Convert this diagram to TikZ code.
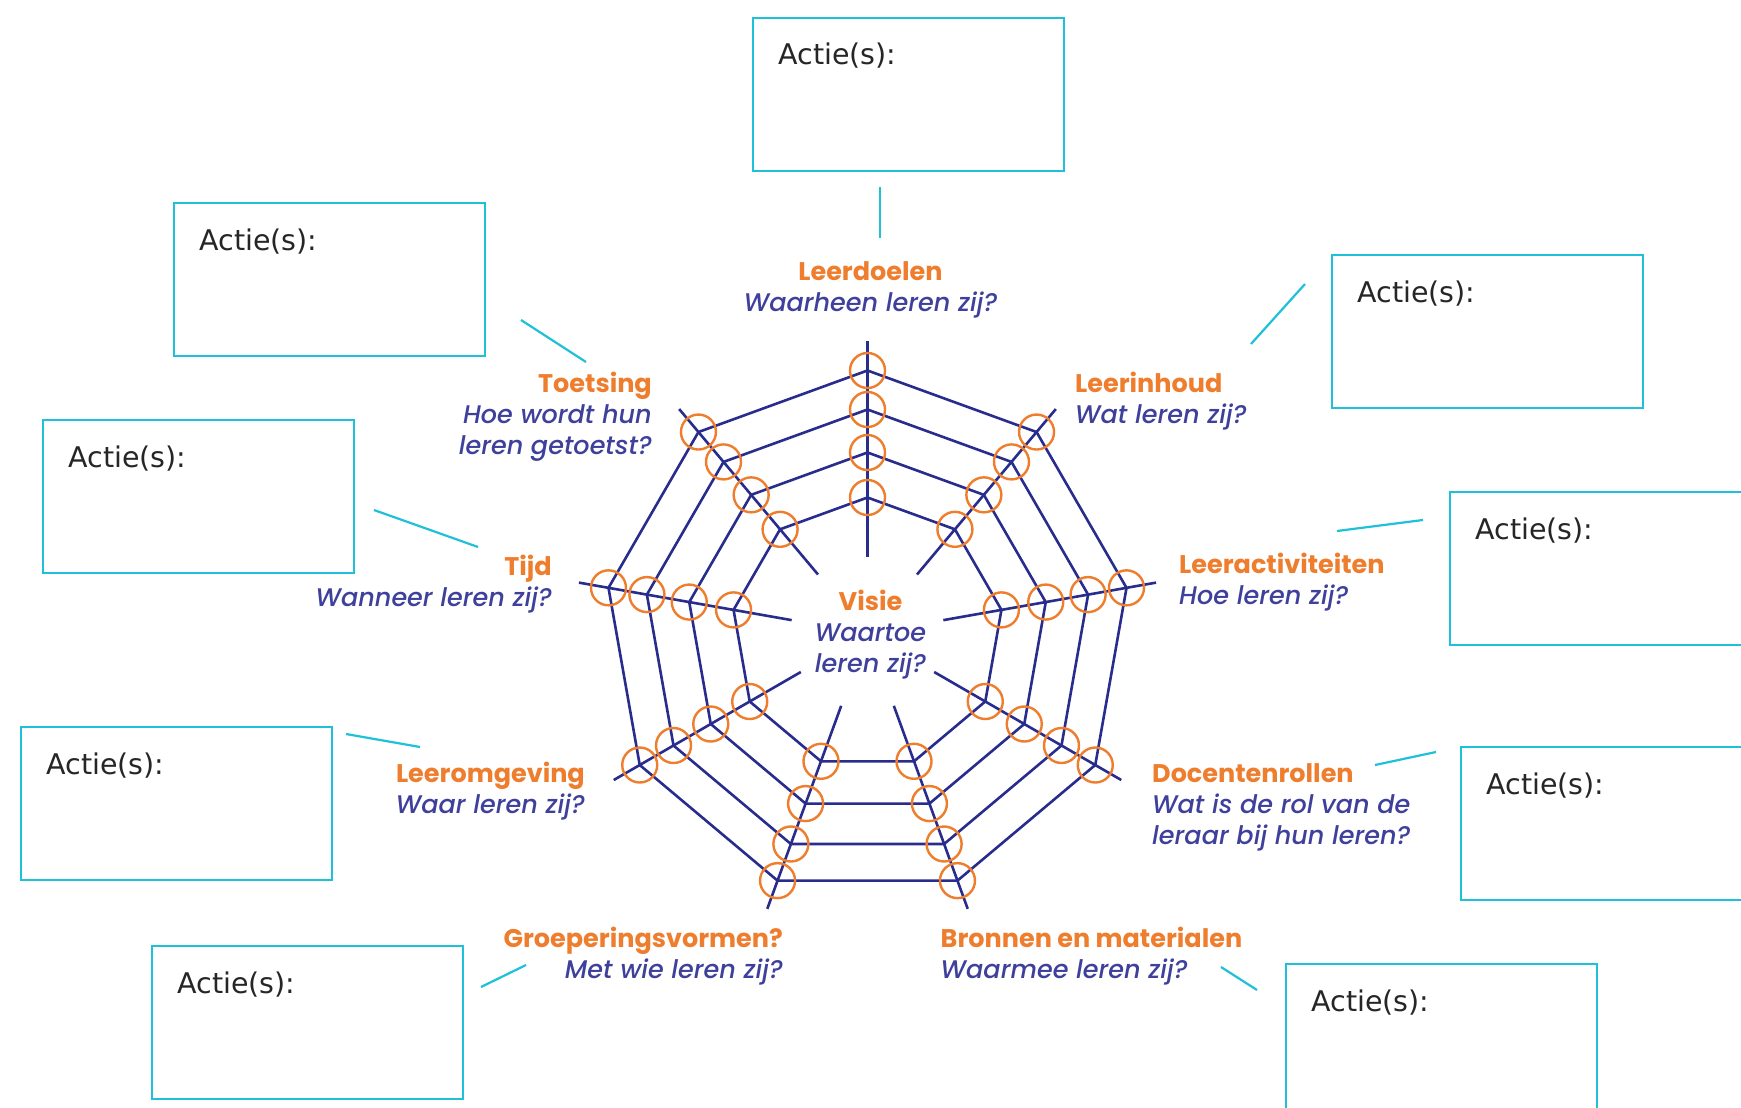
\documentclass[tikz,border=0pt]{standalone}
\usepackage{fontspec}
\newfontfamily\lblfont{Poppins}[ItalicFont={Poppins Medium Italic}]
\newfontfamily\actfont{DejaVu Sans}
\usetikzlibrary{positioning}
\definecolor{webblue}{RGB}{40,44,140}
\definecolor{qblue}{RGB}{62,64,155}
\definecolor{orng}{RGB}{238,125,45}
\definecolor{boxcyan}{RGB}{30,192,218}
\definecolor{acttext}{RGB}{38,38,38}
\newcommand{\ttl}[1]{{\color{orng}\upshape\bfseries #1}}

\begin{document}
\begin{tikzpicture}[x=1pt,y=-1pt,
  actbox/.style={draw=boxcyan,line width=2.2pt,minimum width=311pt,minimum height=153pt,inner sep=0pt,anchor=north west,
    label={[text=acttext,font=\actfont\fontsize{28.5}{32}\selectfont,anchor=base west,xshift=23pt,yshift=-48pt]north west:Actie(s):}},
  lbl/.style={font=\lblfont\itshape\fontsize{25.5}{31}\selectfont,text=qblue,inner sep=0pt},
  con/.style={draw=boxcyan,line width=2.2pt},
  ring/.style={draw=webblue,line width=2.6pt,line join=round},
  knot/.style={draw=orng,line width=2.4pt}]
\useasboundingbox (0,0) rectangle (1741,1108);
\clip (0,0) rectangle (1741,1108);
\fill[white] (0,0) rectangle (1741,1108);

% spider web
\begin{scope}[shift={(867.5,633.5)}]
  \foreach \r in {136,181,224,263}
    \draw[ring] (-90:\r) \foreach \a in {-50,-10,...,230} { -- (\a:\r) } -- cycle;
  \foreach \a in {-90,-50,...,230}
    \draw[ring] (\a:77) -- (\a:293);
  \foreach \r in {136,181,224,263}
    \foreach \a in {-90,-50,...,230}
      \draw[knot] (\a:\r) circle[radius=17.5];
\end{scope}

% labels (base = baseline of the last line)
\node[lbl,align=center,anchor=base] (visie) at (870.5,672.5) {\ttl{Visie}\\Waartoe\\leren zij?};
\node[lbl,align=center,anchor=base] (ldoel) at (870.5,311) {\ttl{Leerdoelen}\\Waarheen leren zij?};
\node[lbl,align=left,anchor=base west] (linh) at (1075,423.5) {\ttl{Leerinhoud}\\Wat leren zij?};
\node[lbl,align=left,anchor=base west] (lact) at (1179,604.5) {\ttl{Leeractiviteiten}\\Hoe leren zij?};
\node[lbl,align=left,anchor=base west] (drol) at (1152,844.5) {\ttl{Docentenrollen}\\Wat is de rol van de\\leraar bij hun leren?};
\node[lbl,align=left,anchor=base west] (bron) at (940.5,978.5) {\ttl{Bronnen en materialen}\\Waarmee leren zij?};
\node[lbl,align=right,anchor=base east] (groep) at (783,978.5) {\ttl{Groeperingsvormen?}\\Met wie leren zij?};
\node[lbl,align=right,anchor=base east] (lomg) at (585,813.5) {\ttl{Leeromgeving}\\Waar leren zij?};
\node[lbl,align=right,anchor=base east] (tijd) at (552,606.5) {\ttl{Tijd}\\Wanneer leren zij?};
\node[lbl,align=right,anchor=base east] (toets) at (652,454.5) {\ttl{Toetsing}\\Hoe wordt hun\\leren getoetst?};

% action boxes
\node[actbox] (b1) at (752,17) {};
\node[actbox] (b2) at (1331,254) {};
\node[actbox] (b3) at (1449,491) {};
\node[actbox] (b4) at (1460,746) {};
\node[actbox] (b5) at (1285,963) {};
\node[actbox] (b6) at (151,945) {};
\node[actbox] (b7) at (20,726) {};
\node[actbox] (b8) at (42,419) {};
\node[actbox] (b9) at (173,202) {};

% connectors
\coordinate (c1s) at (880,187);    \coordinate (c1e) at (880,238);
\coordinate (c2s) at (1251,344);   \coordinate (c2e) at (1305,284);
\coordinate (c3s) at (1337,531);   \coordinate (c3e) at (1423,520);
\coordinate (c4s) at (1375,765);   \coordinate (c4e) at (1436,752);
\coordinate (c5s) at (1221,967);   \coordinate (c5e) at (1257,990);
\coordinate (c6s) at (526,965);    \coordinate (c6e) at (481,987);
\coordinate (c7s) at (420,747);    \coordinate (c7e) at (346,734);
\coordinate (c8s) at (478,547);    \coordinate (c8e) at (374,510);
\coordinate (c9s) at (586,362);    \coordinate (c9e) at (521,320);
\foreach \n in {1,...,9}
  \draw[con] (c\n s) -- (c\n e);
\end{tikzpicture}
\end{document}
